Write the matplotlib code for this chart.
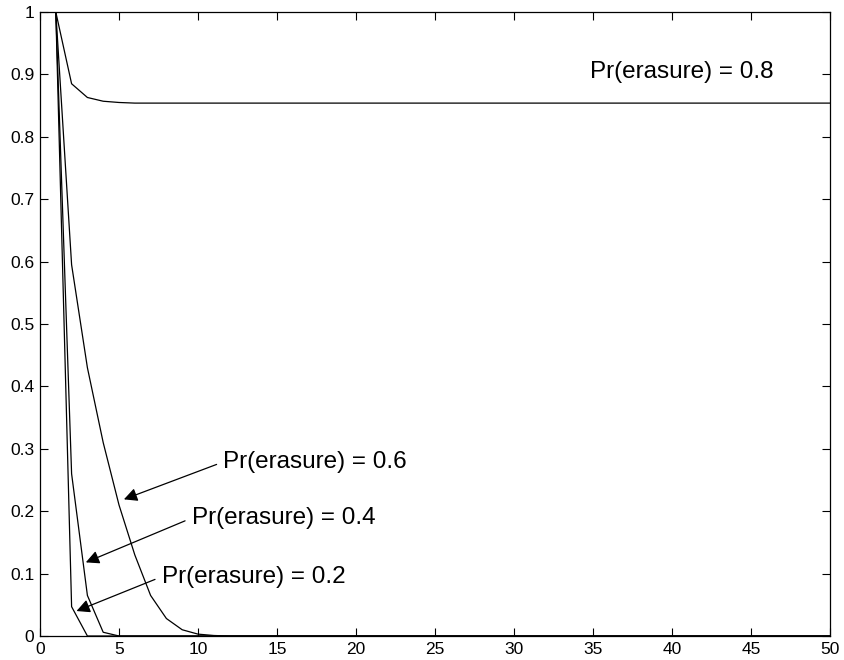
import matplotlib.pyplot as plt

plt.rcParams['font.family'] = ['Liberation Sans', 'DejaVu Sans']

# iteration number vs. erasure probability
it_02 = [1, 2, 3, 50]
pe_02 = [1.0, 0.047, 0.0, 0.0]

it_04 = [1, 2, 3, 4, 5, 50]
pe_04 = [1.0, 0.26, 0.065, 0.006, 0.0, 0.0]

it_06 = [1, 2, 3, 4, 5, 6, 7, 8, 9, 10, 11, 12, 50]
pe_06 = [1.0, 0.595, 0.43, 0.31, 0.21, 0.13, 0.065, 0.028, 0.01, 0.003, 0.0008, 0.0, 0.0]

it_08 = [1, 2, 3, 4, 5, 6, 7, 50]
pe_08 = [1.0, 0.885, 0.863, 0.857, 0.855, 0.854, 0.854, 0.854]

labels = ['Pr(erasure) = 0.2', 'Pr(erasure) = 0.4', 'Pr(erasure) = 0.6', 'Pr(erasure) = 0.8']

fig = plt.figure(figsize=(8.44, 6.60), dpi=100)
ax = fig.add_axes([40 / 844, 24 / 660, 790 / 844, 624 / 660])

for xs, ys in [(it_02, pe_02), (it_04, pe_04), (it_06, pe_06), (it_08, pe_08)]:
    ax.plot(xs, ys, color='black', linewidth=0.9)

ax.set_xlim(0, 50)
ax.set_ylim(0, 1)
ax.set_xticks(range(0, 51, 5))
ax.set_yticks([i / 10 for i in range(11)])
ax.set_yticklabels(['0', '0.1', '0.2', '0.3', '0.4', '0.5', '0.6', '0.7', '0.8', '0.9', '1'])
ax.tick_params(direction='in', top=True, right=True, length=6, width=0.8,
               labelsize=12.5, pad=4)
for s in ax.spines.values():
    s.set_linewidth(0.9)

arrow = dict(arrowstyle='-|>', color='black', linewidth=0.9,
             mutation_scale=20, shrinkA=3, shrinkB=0, relpos=(0, 0.5))
# (tip, text position)
ax.annotate(labels[2], xy=(5.31, 0.219), xytext=(11.6, 0.279),
            fontsize=17.5, va='center', ha='left', arrowprops=arrow)
ax.annotate(labels[1], xy=(2.9, 0.118), xytext=(9.6, 0.189),
            fontsize=17.5, va='center', ha='left', arrowprops=arrow)
ax.annotate(labels[0], xy=(2.31, 0.040), xytext=(7.7, 0.095),
            fontsize=17.5, va='center', ha='left', arrowprops=arrow)
ax.text(34.8, 0.904, labels[3], fontsize=17.5, va='center', ha='left')

fig.savefig('out.png', dpi=100)
